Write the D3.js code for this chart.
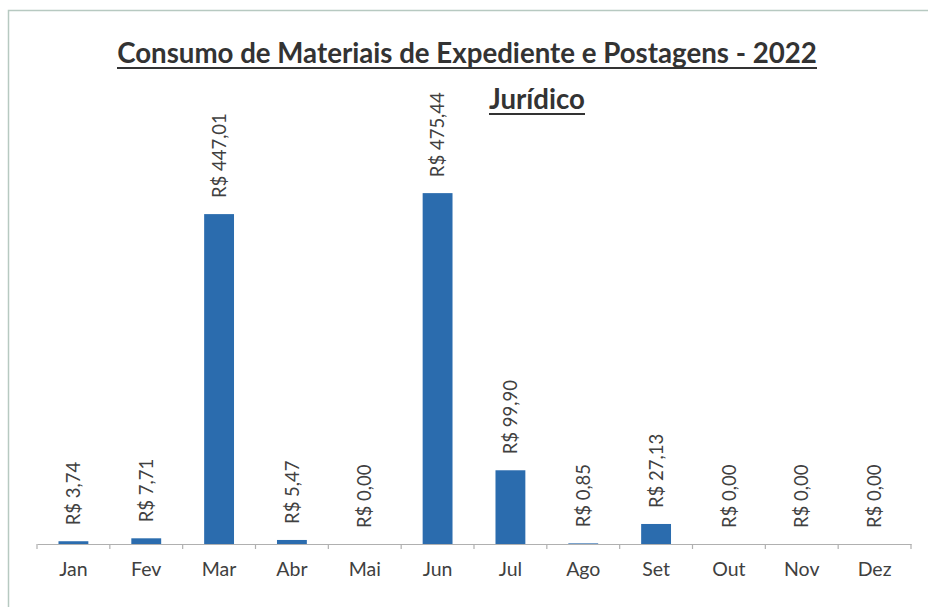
<!DOCTYPE html>
<html>
<head>
<meta charset="utf-8">
<script src="https://cdn.jsdelivr.net/npm/d3@7"></script>
<style>
  html, body { margin: 0; padding: 0; background: #fff; }
  svg { display: block; }
</style>
</head>
<body>
<div id="chart"></div>
<script>
// dados
const months = ['Jan', 'Fev', 'Mar', 'Abr', 'Mai', 'Jun', 'Jul', 'Ago', 'Set', 'Out', 'Nov', 'Dez'];
const values = [3.74, 7.71, 447.01, 5.47, 0.00, 475.44, 99.90, 0.85, 27.13, 0.00, 0.00, 0.00];
const title = 'Consumo de Materiais de Expediente e Postagens - 2022';
const subTitle = 'Jurídico';

const w = 928, h = 607;
const fontFamily = 'Lato, "Open Sans", sans-serif';
const fmt = v => 'R$ ' + v.toFixed(2).replace('.', ',');

const svg = d3.select('#chart').append('svg')
  .attr('width', w)
  .attr('height', h);

// moldura do gráfico
svg.append('rect')
  .attr('x', 8.5).attr('y', 10.5)
  .attr('width', w + 10).attr('height', h + 10)
  .attr('fill', 'none')
  .attr('stroke', '#b7c9c1')
  .attr('stroke-width', 1.5);

// escalas
const x = d3.scaleBand()
  .domain(months)
  .range([37, 911])
  .paddingInner(0.59)
  .paddingOuter(0.295);

const y = d3.scaleLinear()
  .domain([0, 500])
  .range([544, 175]);

// títulos sublinhados, ajustados à largura medida
function underlinedText(txt, cx, baseline, targetWidth) {
  const t = svg.append('text')
    .attr('x', cx).attr('y', baseline)
    .attr('text-anchor', 'middle')
    .style('font-family', fontFamily)
    .style('font-weight', 'bold')
    .style('font-size', '24px')
    .attr('fill', '#333')
    .text(txt);
  const len = t.node().getComputedTextLength();
  t.style('font-size', (24 * targetWidth / len) + 'px');
  svg.append('line')
    .attr('x1', cx - targetWidth / 2).attr('x2', cx + targetWidth / 2)
    .attr('y1', baseline + 5).attr('y2', baseline + 5)
    .attr('stroke', '#333')
    .attr('stroke-width', 2);
}
underlinedText(title, 467, 63, 700);
underlinedText(subTitle, 537, 109, 96);

// barras
svg.selectAll('.bar')
  .data(months)
  .enter().append('rect')
  .attr('class', 'bar')
  .attr('x', d => x(d))
  .attr('width', x.bandwidth())
  .attr('y', (d, i) => y(values[i]))
  .attr('height', (d, i) => y(0) - y(values[i]))
  .attr('fill', '#2b6cae');

// rótulos de dados (verticais)
svg.selectAll('.label')
  .data(months)
  .enter().append('text')
  .attr('class', 'label')
  .attr('transform', (d, i) => `translate(${x(d) + x.bandwidth() / 2},${y(values[i]) - 16}) rotate(-90)`)
  .attr('dy', '0.36em')
  .style('font-family', fontFamily)
  .style('font-size', '18.5px')
  .attr('fill', '#404040')
  .text((d, i) => fmt(values[i]));

// eixo X
const axis = svg.append('g')
  .attr('transform', `translate(0,${y(0)})`)
  .call(d3.axisBottom(x).tickSize(0).tickPadding(18));
axis.select('.domain').attr('stroke', '#b0b0b0').attr('stroke-width', 1.2);
axis.selectAll('text')
  .style('font-family', fontFamily)
  .style('font-size', '19.5px')
  .attr('fill', '#404040');

// marcas entre categorias
const gap = (x.step() - x.bandwidth()) / 2;
const bounds = months.map(d => x(d) - gap).concat([x(months[months.length - 1]) + x.bandwidth() + gap]);
svg.selectAll('.tick-mark')
  .data(bounds)
  .enter().append('line')
  .attr('x1', d => d).attr('x2', d => d)
  .attr('y1', y(0)).attr('y2', y(0) + 5)
  .attr('stroke', '#b0b0b0')
  .attr('stroke-width', 1.2);
</script>
</body>
</html>
